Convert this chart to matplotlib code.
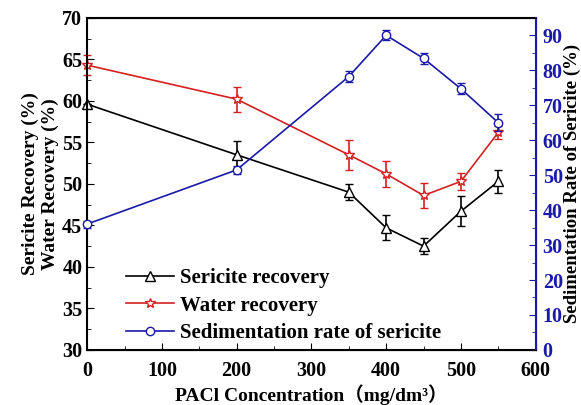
import matplotlib.pyplot as plt
from matplotlib.ticker import MultipleLocator
from matplotlib.lines import Line2D

plt.rcParams['font.family'] = ['Liberation Serif', 'Noto Sans CJK SC']
plt.rcParams['font.weight'] = 'bold'

conc = [0, 200, 350, 400, 450, 500, 550]
sericite = [59.6, 53.5, 49.0, 44.7, 42.5, 46.7, 50.3]
sericite_err = [0, 1.7, 1.0, 1.5, 1.0, 1.8, 1.4]
water = [64.3, 60.2, 53.5, 51.2, 48.6, 50.3, 56.2]
water_err = [1.2, 1.5, 1.8, 1.6, 1.5, 1.0, 0.8]
sedim = [36.0, 51.5, 78.2, 90.0, 83.4, 74.7, 65.0]
sedim_err = [1.0, 1.2, 1.6, 1.4, 1.5, 1.6, 2.4]

fig = plt.figure(figsize=(5.81, 4.05), dpi=100)
ax = fig.add_axes([0.150, 0.136, 0.772, 0.820])
ax2 = ax.twinx()

ax.errorbar(conc, sericite, yerr=sericite_err, color='black', marker='^', mfc='white',
            ms=7, lw=1.2, capsize=3, elinewidth=1.2, clip_on=False)
ax.errorbar(conc, water, yerr=water_err, color='#d42020', marker='*', mfc='white',
            ms=7, lw=1.2, capsize=3, elinewidth=1.2, clip_on=False)
ax2.errorbar(conc, sedim, yerr=sedim_err, color='#1a1aa8', marker='o', mfc='white',
             ms=6, lw=1.2, capsize=3, elinewidth=1.2, clip_on=False)

ax.set_xlim(0, 600)
ax.set_ylim(30, 70)
ax2.set_ylim(0, 95)
ax.xaxis.set_major_locator(MultipleLocator(100))
ax.xaxis.set_minor_locator(MultipleLocator(50))
ax.yaxis.set_major_locator(MultipleLocator(5))
ax.yaxis.set_minor_locator(MultipleLocator(2.5))
ax2.yaxis.set_major_locator(MultipleLocator(10))
ax2.yaxis.set_minor_locator(MultipleLocator(5))

ax.tick_params(which='both', direction='in', labelsize=14.5)
ax.tick_params(which='major', length=5)
ax.tick_params(which='minor', length=3)
ax.tick_params(axis='x', pad=8)
ax2.tick_params(which='both', direction='in', colors='#1a1aa8', labelsize=14.5)
ax2.tick_params(which='major', length=5, pad=5)
ax2.tick_params(which='minor', length=3)
ax2.spines['right'].set_color('#1a1aa8')
ax2.spines['right'].set_linewidth(1.5)
for s in ['left', 'top', 'bottom']:
    ax.spines[s].set_linewidth(1.5)
ax2.spines['left'].set_visible(False)

ax.set_xlabel('PACl Concentration（mg/dm³）', fontsize=14, fontweight='bold', labelpad=2)
ax.set_ylabel('Sericite Recovery (%)\nWater Recovery (%)', fontsize=14, fontweight='bold',
              linespacing=1.25, labelpad=2)
ax2.set_ylabel('Sedimentation Rate of Sericite (%)', fontsize=13.5, fontweight='bold',
               color='black', labelpad=1)

handles = [
    Line2D([], [], color='black', marker='^', mfc='white', ms=7, lw=1.2),
    Line2D([], [], color='#d42020', marker='*', mfc='white', ms=7, lw=1.2),
    Line2D([], [], color='#1a1aa8', marker='o', mfc='white', ms=6, lw=1.2),
]
labels = ['Sericite recovery', 'Water recovery', 'Sedimentation rate of sericite']
ax.legend(handles, labels, loc='lower left', bbox_to_anchor=(0.045, -0.035), frameon=False,
          handlelength=2.3, handletextpad=0.3, labelspacing=0.35,
          prop={'weight': 'bold', 'size': 15})

fig.savefig('out.png', dpi=100)
